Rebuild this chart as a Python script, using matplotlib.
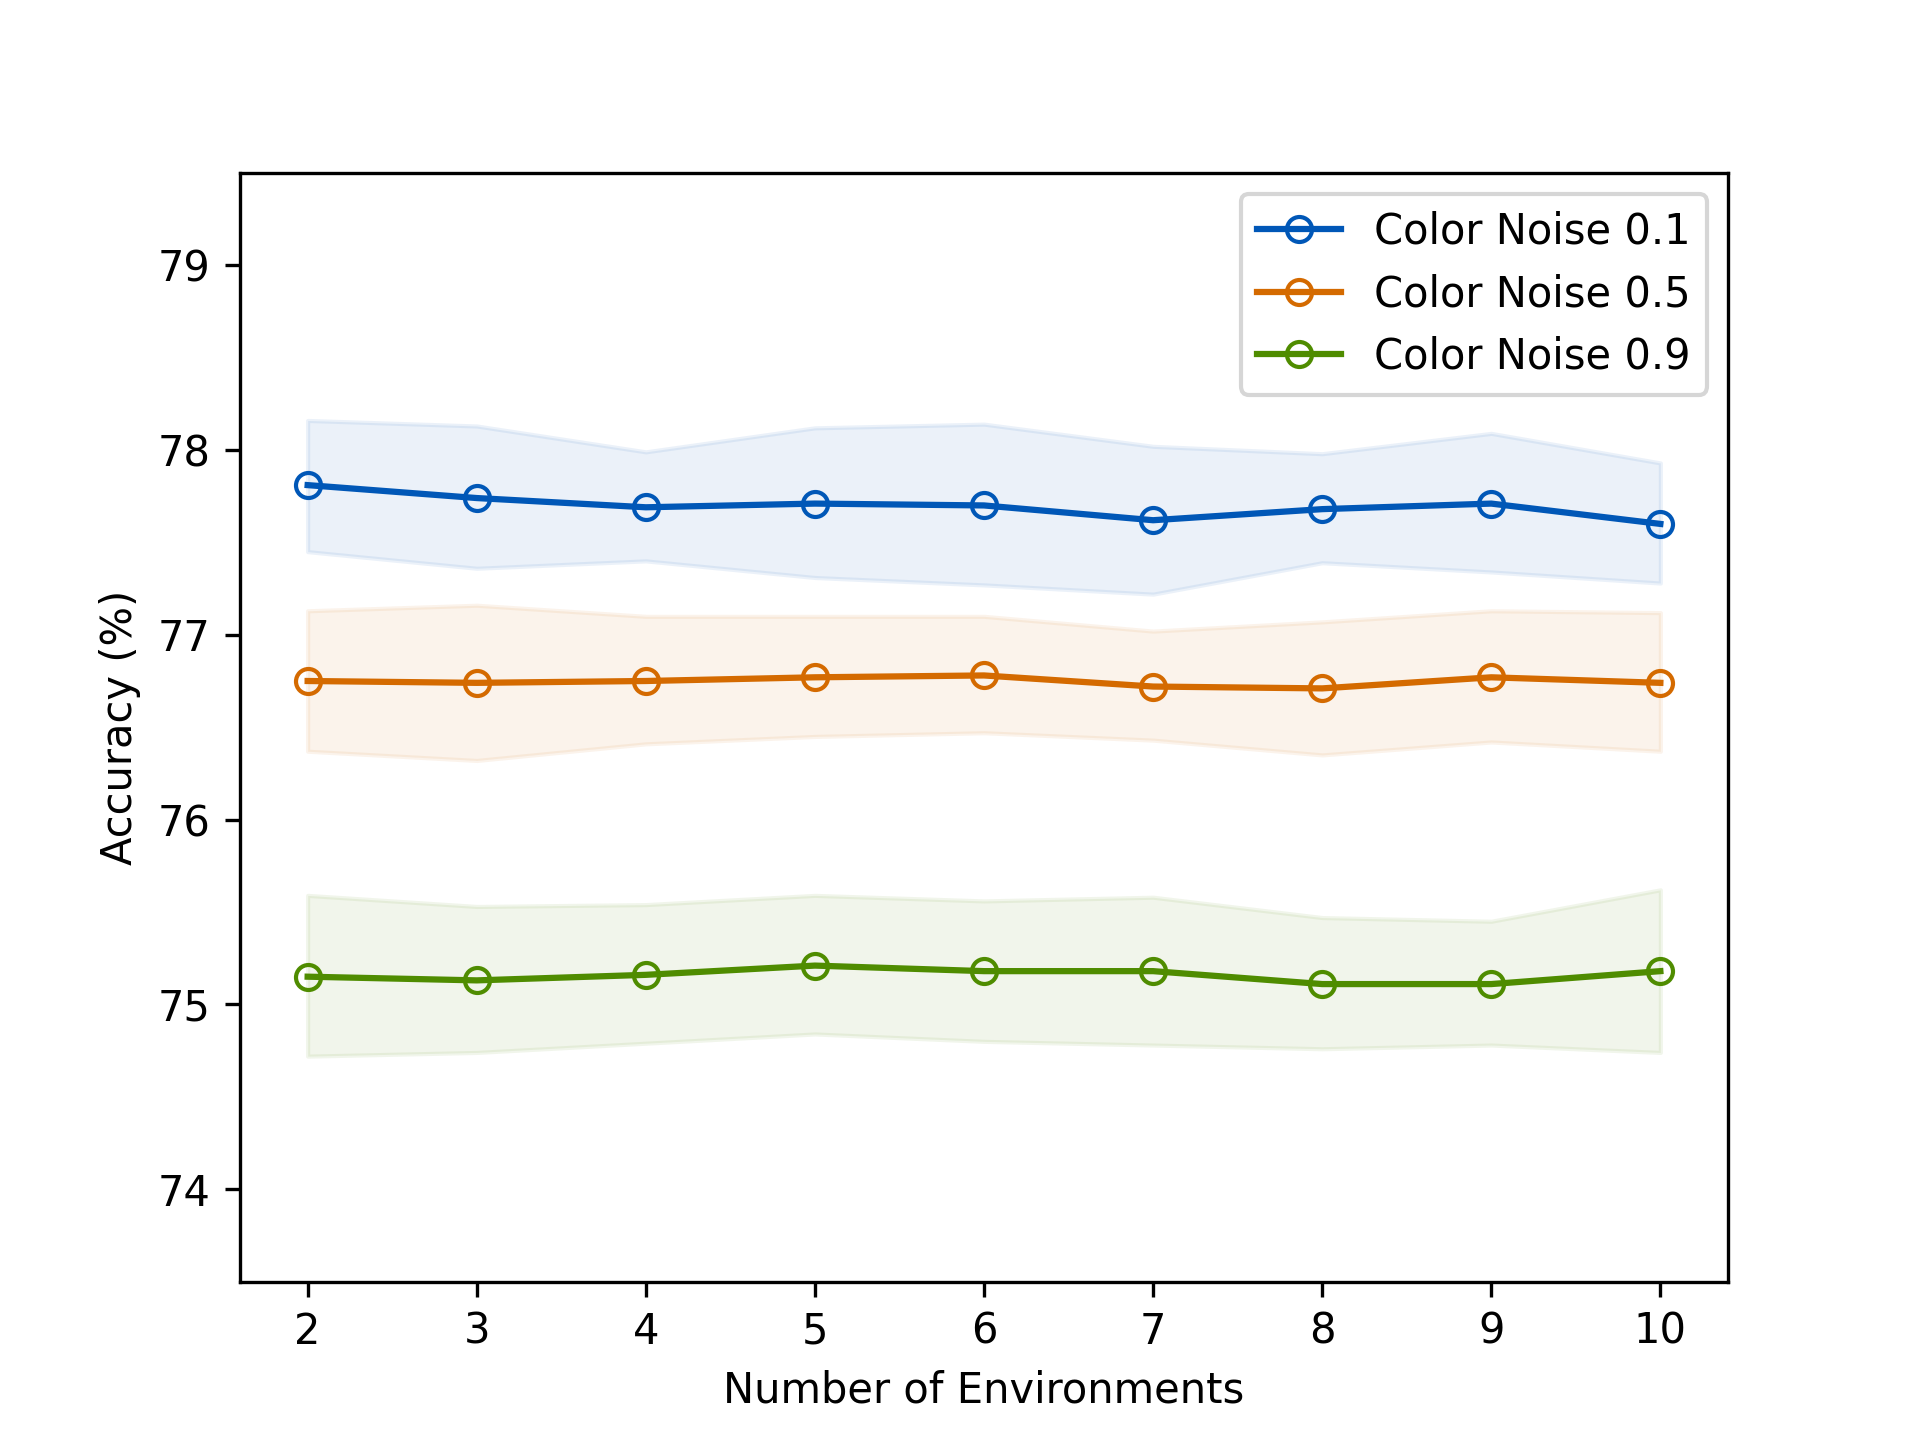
import matplotlib
matplotlib.use("Agg")
import matplotlib.pyplot as plt
import numpy as np

envs = [2, 3, 4, 5, 6, 7, 8, 9, 10]

labels = ["Color Noise 0.1", "Color Noise 0.5", "Color Noise 0.9"]

mean_01 = [77.81, 77.74, 77.69, 77.71, 77.70, 77.62, 77.68, 77.71, 77.60]
upper_01 = [78.16, 78.13, 77.99, 78.12, 78.14, 78.02, 77.98, 78.09, 77.93]
lower_01 = [77.45, 77.36, 77.40, 77.31, 77.27, 77.22, 77.39, 77.34, 77.28]

mean_05 = [76.75, 76.74, 76.75, 76.77, 76.78, 76.72, 76.71, 76.77, 76.74]
upper_05 = [77.13, 77.16, 77.10, 77.10, 77.10, 77.02, 77.07, 77.13, 77.12]
lower_05 = [76.37, 76.32, 76.41, 76.45, 76.47, 76.43, 76.35, 76.42, 76.37]

mean_09 = [75.15, 75.13, 75.16, 75.21, 75.18, 75.18, 75.11, 75.11, 75.18]
upper_09 = [75.59, 75.53, 75.54, 75.59, 75.56, 75.58, 75.47, 75.45, 75.62]
lower_09 = [74.72, 74.74, 74.79, 74.84, 74.80, 74.78, 74.76, 74.78, 74.74]

colors = ["#0057B7", "#D46A00", "#4F8C00"]

fig, ax = plt.subplots(figsize=(6.4, 4.8), dpi=300)

series = [(mean_01, upper_01, lower_01), (mean_05, upper_05, lower_05), (mean_09, upper_09, lower_09)]
for (m, u, l), c, lab in zip(series, colors, labels):
    ax.plot(envs, m, marker="o", color=c, markerfacecolor="none", label=lab)
    ax.fill_between(envs, l, u, color=c, alpha=0.08)

ax.set_ylim(73.5, 79.5)
ax.set_xticks(envs)
ax.set_yticks([74, 75, 76, 77, 78, 79])
ax.set_xlabel("Number of Environments")
ax.set_ylabel("Accuracy (%)")
ax.legend(loc="upper right")

fig.savefig("out.png", dpi=300)
